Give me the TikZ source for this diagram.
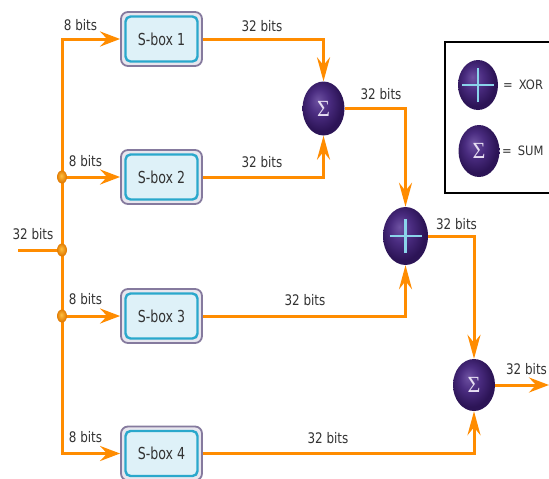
\documentclass[tikz,border=0pt]{standalone}
\usepackage{graphicx}
\usepackage{fontspec}
\setmainfont{DejaVu Sans}
\newfontfamily\sigfont{Liberation Serif}
\usetikzlibrary{arrows.meta,shapes.geometric}
\definecolor{wireor}{HTML}{FF8C00}
\definecolor{txt}{HTML}{333333}
\definecolor{sbout}{HTML}{857A9E}
\definecolor{sbband}{HTML}{E8E6EE}
\definecolor{sbcyan}{HTML}{2AA8CC}
\definecolor{sbfill}{HTML}{DEF1F8}
\definecolor{purpl}{HTML}{6E52A2}
\definecolor{purpm}{HTML}{4A2C80}
\definecolor{purpd}{HTML}{2C1456}
\definecolor{lav}{HTML}{E6DEF2}
\definecolor{xorblue}{HTML}{8AD4EA}
\definecolor{dotl}{HTML}{FFC040}
\definecolor{dotd}{HTML}{E07800}
\pgfdeclareradialshading{purpball}{\pgfpoint{-7bp}{8bp}}{color(0bp)=(purpl); color(12bp)=(purpm); color(25bp)=(purpd); color(50bp)=(purpd)}
\pgfdeclareradialshading{dotball}{\pgfpoint{-4bp}{5bp}}{color(0bp)=(dotl); color(25bp)=(dotd); color(50bp)=(dotd)}
\newcommand\bitlbl[1]{\scalebox{0.92}[1.12]{\fontsize{13}{15}\selectfont #1}}
\newcommand\boxlbl[1]{\scalebox{0.9}[1.18]{\fontsize{14}{16}\selectfont #1}}
\newcommand\siglbl{\scalebox{1.05}[1.1]{\sigfont\fontsize{21}{23}\selectfont Σ}}
\begin{document}
\begin{tikzpicture}[x=1pt,y=-1pt,
  sbox/.style={rectangle, rounded corners=7pt, draw=sbout, line width=1.8pt, fill=sbband,
    minimum width=81pt, minimum height=54pt, inner sep=0pt, text=txt,
    path picture={\draw[sbcyan, line width=2.4pt, fill=sbfill, rounded corners=5pt]
      ([shift={(4.5pt,-4.5pt)}]path picture bounding box.north west) rectangle
      ([shift={(-4.5pt,4.5pt)}]path picture bounding box.south east);}},
  op/.style={ellipse, inner sep=0pt, shading=purpball, text=lav},
  xorop/.style={op, path picture={
      \draw[xorblue, line width=2.2pt] ([xshift=-16pt]path picture bounding box.center) -- ([xshift=16pt]path picture bounding box.center);
      \draw[xorblue, line width=2.2pt] ([yshift=-17pt]path picture bounding box.center) -- ([yshift=17pt]path picture bounding box.center);}},
  jdot/.style={ellipse, minimum width=10pt, minimum height=13pt, inner sep=0pt, shading=dotball},
  lbl/.style={text=txt, inner sep=0pt},
  wire/.style={draw=wireor, line width=3pt},
  harr/.style={wire, -{Stealth[length=20pt,width=15pt,inset=7pt]}},
  varr/.style={wire, -{Stealth[length=24pt,width=13pt,inset=8pt]}}
]
\clip (0,0) rectangle (549,479);
\fill[white] (0,0) rectangle (549,479);

% legend
\node[draw=black, line width=2pt, minimum width=120pt, minimum height=151pt, inner sep=0pt] (legend) at (505,117.5) {};
\node[xorop, minimum width=40pt, minimum height=50pt] (lxor) at (478,85) {};
\node[op, minimum width=41pt, minimum height=52pt] (lsum) at (479,151) {\siglbl};
\node[lbl, anchor=west] (lxort) at (503,85) {\scalebox{1}[1.12]{\fontsize{11.5}{13}\selectfont =\hspace{6pt}XOR}};
\node[lbl, anchor=west] (lsumt) at (502,151) {\scalebox{1}[1.12]{\fontsize{11.5}{13}\selectfont =\hspace{6pt}SUM}};

% S-boxes
\node[sbox] (s1) at (161.5,39) {\boxlbl{S-box 1}};
\node[sbox] (s2) at (161.5,177) {\boxlbl{S-box 2}};
\node[sbox] (s3) at (161.5,316) {\boxlbl{S-box 3}};
\node[sbox] (s4) at (161.5,453.5) {\boxlbl{S-box 4}};

% operators
\node[op, minimum width=42pt, minimum height=54pt] (sig1) at (323.5,108.5) {\siglbl};
\node[xorop, minimum width=45pt, minimum height=58pt] (xor) at (405.5,236) {};
\node[op, minimum width=42pt, minimum height=52pt] (sig2) at (474,385) {\siglbl};

% coordinates
\coordinate (in) at (18,250);
\coordinate (out) at (549,385);
\coordinate (jin) at (62,250);
\coordinate (j2) at (62,177);
\coordinate (j3) at (62,316);

% wires
\draw[wire] (in) -- (jin);
\draw[harr] (jin) |- (s1.west);
\draw[harr] (jin) |- (s4.west);
\draw[harr] (j2) -- (s2.west);
\draw[harr] (j3) -- (s3.west);
\draw[varr] (s1.east) -| (sig1.north);
\draw[varr] (s2.east) -| (sig1.south);
\draw[varr] (sig1.east) -| (xor.north);
\draw[varr] (s3.east) -| (xor.south);
\draw[varr] (xor.east) -| (sig2.north);
\draw[varr] (s4.east) -| (sig2.south);
\draw[harr] (sig2.east) -- (out);

% junction dots
\node[jdot] (d2) at (j2) {};
\node[jdot] (din) at (jin) {};
\node[jdot] (d3) at (j3) {};

% labels
\node[lbl] (t1) at (80.5,25) {\bitlbl{8 bits}};
\node[lbl] (t2) at (85.5,161.5) {\bitlbl{8 bits}};
\node[lbl] (t3) at (85.5,299) {\bitlbl{8 bits}};
\node[lbl] (t4) at (85.5,437.5) {\bitlbl{8 bits}};
\node[lbl] (tin) at (33,234) {\bitlbl{32 bits}};
\node[lbl] (o1) at (262,26) {\bitlbl{32 bits}};
\node[lbl] (o2) at (262,162) {\bitlbl{32 bits}};
\node[lbl] (o3) at (305,300) {\bitlbl{32 bits}};
\node[lbl] (o4) at (328,438) {\bitlbl{32 bits}};
\node[lbl] (os1) at (381,94) {\bitlbl{32 bits}};
\node[lbl] (ox) at (456.5,224) {\bitlbl{32 bits}};
\node[lbl] (os2) at (526.5,369) {\bitlbl{32 bits}};
\end{tikzpicture}
\end{document}
